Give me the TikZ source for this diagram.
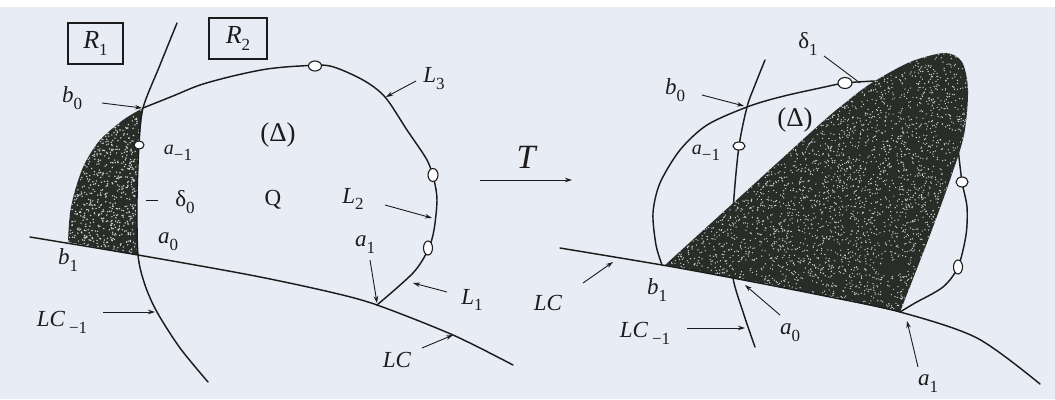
\documentclass[tikz,border=0pt]{standalone}
\usepackage{fontspec}
\setmainfont{Liberation Serif}
\usetikzlibrary{arrows.meta}
\definecolor{paper}{RGB}{232,236,244}
\definecolor{ink}{RGB}{28,28,28}
\definecolor{dark}{RGB}{40,45,40}
\definecolor{speck}{RGB}{205,210,212}
\newcommand\lb[2]{\textit{#1}\raisebox{-0.3em}{\fontsize{17}{17}\selectfont #2}}
\newcommand\ub[2]{#1\raisebox{-0.3em}{\fontsize{17}{17}\selectfont #2}}
\begin{document}
\begin{tikzpicture}[x=1pt,y=-1pt,
 curve/.style={ink, line width=1.45pt, line join=round, line cap=round},
 lbl/.style={text=ink, font=\fontsize{23}{27}\selectfont, inner sep=0pt},
 ptr/.style={ink, line width=0.9pt, -{Stealth[length=7pt,width=4.5pt]}},
 lead/.style={ink, line width=0.9pt},
 hole/.style={ink, line width=1.1pt, fill=white},
 box/.style={draw=ink, line width=1.1pt, minimum width=55pt, minimum height=41pt, inner sep=0pt, text=ink, font=\fontsize{26}{30}\selectfont}]
\useasboundingbox (0,0) rectangle (1055,399);
\fill[paper] (0,0) rectangle (1055,399);
\fill[white] (0,0) rectangle (1055,7);
\pgfmathsetseed{4242}
% ---------------- left figure ----------------
\def\dzero{plot[smooth] coordinates {(143,108) (141,125) (139,145) (137,200) (138,255)} -- plot[smooth] coordinates {(138,255) (100,248) (68,242)} -- plot[smooth] coordinates {(68,242) (70,213) (76,187) (85,163) (100,140) (123,120) (143,108)} -- cycle}
\begin{scope}
 \clip \dzero;
 \fill[dark] (60,100) rectangle (150,260);
 \foreach \i in {1,...,1100} {\fill[speck] ({105+45*rand},{180+80*rand}) circle (0.8pt);}
\end{scope}
\draw[curve] plot[smooth] coordinates {(177,23) (160,65) (143,108) (139,145) (137,200) (138,255) (145,285) (157,312) (180,348) (208,382)};
\draw[curve] plot[smooth] coordinates {(30,237) (138,255) (250,275) (330,292) (377,305) (453,335) (513,365)};
\draw[curve] plot[smooth] coordinates {(143,108) (173,96) (200,85) (233,76) (267,69) (300,66) (330,66) (363,80) (385,97) (407,130) (427,160) (434,180) (437,200) (434,230) (428,250) (413,273) (377,305)};
\draw[hole] (315,66) ellipse [x radius=6.5pt, y radius=5pt];
\draw[hole] (139,145) ellipse [x radius=5pt, y radius=4pt];
\draw[hole] (433,175) ellipse [x radius=5pt, y radius=6.5pt];
\draw[hole] (428,248) ellipse [x radius=4.5pt, y radius=7pt];
\node[box] (R1) at (95.5,43.5) {\lb{R}{1}};
\node[box, minimum width=58pt] (R2) at (238,38.5) {\lb{R}{2}};
\node[lbl] (lb0) at (72,98) {\lb{b}{0}};
\coordinate (b0t) at (102,103); \coordinate (b0) at (142,108);
\draw[ptr] (b0t) -- (b0);
\node[lbl, font=\fontsize{27}{31}\selectfont] (lD) at (278,135) {(Δ)};
\node[lbl, font=\fontsize{20}{24}\selectfont] (lam) at (178,153) {\lb{a}{−1}};
\coordinate (d0a) at (146,200); \coordinate (d0b) at (158,200);
\draw[lead] (d0a) -- (d0b);
\node[lbl] (ld0) at (185,202) {\ub{δ}{0}};
\node[lbl] (lQ) at (273,200) {Q};
\node[lbl] (la0) at (168,242) {\lb{a}{0}};
\node[lbl] (lb1) at (68,260) {\lb{b}{1}};
\node[lbl] (lLCm) at (62,322) {\textit{LC}\,\raisebox{-0.3em}{\fontsize{17}{17}\selectfont −1}};
\coordinate (lcmt) at (103,312); \coordinate (lcmh) at (155,312);
\draw[ptr] (lcmt) -- (lcmh);
\node[lbl] (lL3) at (434,79) {\lb{L}{3}};
\coordinate (l3t) at (416,81); \coordinate (l3h) at (386,97);
\draw[ptr] (l3t) -- (l3h);
\node[lbl] (lL2) at (353,199) {\lb{L}{2}};
\coordinate (l2t) at (385,205); \coordinate (l2h) at (432,218);
\draw[ptr] (l2t) -- (l2h);
\node[lbl] (la1) at (365,245) {\lb{a}{1}};
\coordinate (a1t) at (370,260); \coordinate (a1h) at (377,303);
\draw[ptr] (a1t) -- (a1h);
\node[lbl] (lL1) at (472,300) {\lb{L}{1}};
\coordinate (l1t) at (447,292); \coordinate (l1h) at (413,283);
\draw[ptr] (l1t) -- (l1h);
\node[lbl] (lLC) at (397,360) {\textit{LC}};
\coordinate (lct) at (422,348); \coordinate (lch) at (453,335);
\draw[ptr] (lct) -- (lch);
% ---------------- T ----------------
\node[lbl, font=\fontsize{34}{38}\selectfont] (lT) at (527,157) {\textit{T}};
\coordinate (Tt) at (480,180); \coordinate (Th) at (572,180);
\draw[ptr] (Tt) -- (Th);
% ---------------- right figure ----------------
\draw[curve] plot[smooth] coordinates {(765,60) (755,85) (747,107) (739,146) (734,197) (732,240) (733,278) (744,315) (755,347)};
\draw[curve] plot[smooth] coordinates {(875,81) (845,83) (820,88) (780,97) (747,107) (707,125) (680,150) (660,183) (653,213) (656,245) (662,265)};
\draw[curve] plot[smooth] coordinates {(958,148) (962,182) (967,207) (966,235) (958,267) (943,287) (915,303) (900,312)};
\def\dR{plot[smooth] coordinates {(665,265) (742,195) (820,124) (845,103) (870,84) (910,62) (945,53) (962,62) (968,90) (964,135) (950,180) (930,235) (900,312)} -- plot[smooth] coordinates {(900,312) (820,295) (733,278) (665,265)} -- cycle}
\begin{scope}
 \clip \dR;
 \fill[dark] (650,45) rectangle (975,320);
 \foreach \i in {1,...,5000} {\fill[speck] ({812+160*rand},{185+137*rand}) circle (0.7pt);}
\end{scope}
\draw[curve] plot[smooth] coordinates {(560,248) (662,265) (733,278) (820,295) (900,312) (977,338) (1040,384)};
\draw[hole] (845,83) ellipse [x radius=7pt, y radius=5.5pt];
\draw[hole] (739,146) ellipse [x radius=6pt, y radius=4pt];
\draw[hole] (962,182) ellipse [x radius=6pt, y radius=5pt];
\draw[hole] (958,267) ellipse [x radius=4.5pt, y radius=7pt];
\coordinate (d1t) at (824,56); \coordinate (d1h) at (860,83);
\draw[lead] (d1t) -- (d1h);
\node[lbl] (ld1) at (808,44) {\ub{δ}{1}};
\node[lbl] (rb0) at (675,90) {\lb{b}{0}};
\coordinate (rb0t) at (702,95); \coordinate (rb0h) at (744,106);
\draw[ptr] (rb0t) -- (rb0h);
\node[lbl, font=\fontsize{20}{24}\selectfont] (ram) at (706,153) {\lb{a}{−1}};
\node[lbl, font=\fontsize{27}{31}\selectfont] (rD) at (795,120) {(Δ)};
\node[lbl] (rLC) at (548,303) {\textit{LC}};
\coordinate (rlct) at (583,283); \coordinate (rlch) at (613,262);
\draw[ptr] (rlct) -- (rlch);
\node[lbl] (rb1) at (657,290) {\lb{b}{1}};
\node[lbl] (rLCm) at (645,333) {\textit{LC}\,\raisebox{-0.3em}{\fontsize{17}{17}\selectfont −1}};
\coordinate (rlcmt) at (687,328); \coordinate (rlcmh) at (745,328);
\draw[ptr] (rlcmt) -- (rlcmh);
\node[lbl] (ra0) at (790,333) {\lb{a}{0}};
\coordinate (ra0t) at (780,315); \coordinate (ra0h) at (745,285);
\draw[ptr] (ra0t) -- (ra0h);
\node[lbl] (ra1) at (928,384) {\lb{a}{1}};
\coordinate (ra1t) at (918,367); \coordinate (ra1h) at (907,321);
\draw[ptr] (ra1t) -- (ra1h);
\end{tikzpicture}
\end{document}
